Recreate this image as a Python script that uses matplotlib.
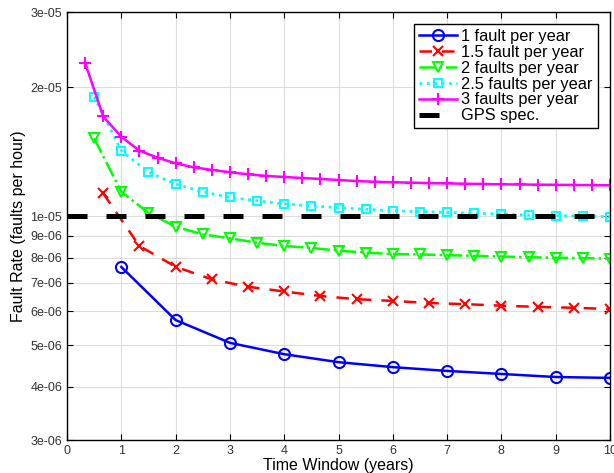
import numpy as np
import matplotlib
matplotlib.use("Agg")
import matplotlib.pyplot as plt
from matplotlib.ticker import FixedLocator, NullLocator

plt.rcParams['font.family'] = ['Liberation Sans', 'DejaVu Sans']

# time windows (years) for each series
x_1 = [1, 2, 3, 4, 5, 6, 7, 8, 9, 10]
x_15 = [2/3 * i for i in range(1, 16)]
x_2 = [0.5 * i for i in range(1, 21)]
x_25 = [0.5 * i for i in range(1, 21)]
x_3 = [i / 3 for i in range(1, 31)]

# fault rates (faults per hour)
rate_1 = [7.61e-6, 5.72e-6, 5.06e-6, 4.76e-6, 4.56e-6, 4.44e-6, 4.35e-6,
          4.28e-6, 4.21e-6, 4.19e-6]
rate_15 = [1.131e-5, 8.52e-6, 7.62e-6, 7.12e-6, 6.84e-6, 6.67e-6, 6.51e-6,
           6.40e-6, 6.34e-6, 6.27e-6, 6.23e-6, 6.18e-6, 6.14e-6, 6.11e-6, 6.07e-6]
rate_2 = [1.52e-5, 1.14e-5, 1.019e-5, 9.45e-6, 9.07e-6, 8.88e-6, 8.67e-6,
          8.52e-6, 8.43e-6, 8.31e-6, 8.22e-6, 8.16e-6, 8.14e-6, 8.11e-6,
          8.08e-6, 8.05e-6, 8.02e-6, 8.00e-6, 7.98e-6, 7.96e-6]
rate_25 = [1.90e-5, 1.423e-5, 1.267e-5, 1.189e-5, 1.14e-5, 1.107e-5, 1.087e-5,
           1.068e-5, 1.057e-5, 1.047e-5, 1.038e-5, 1.030e-5, 1.025e-5,
           1.021e-5, 1.016e-5, 1.012e-5, 1.006e-5, 1.003e-5, 1.001e-5, 0.997e-5]
rate_3 = [2.28e-5, 1.71e-5, 1.533e-5, 1.423e-5, 1.370e-5, 1.329e-5, 1.301e-5,
          1.283e-5, 1.267e-5, 1.253e-5, 1.242e-5, 1.235e-5, 1.228e-5, 1.222e-5,
          1.215e-5, 1.208e-5, 1.204e-5, 1.200e-5, 1.198e-5, 1.195e-5, 1.193e-5,
          1.191e-5, 1.189e-5, 1.187e-5, 1.186e-5, 1.185e-5, 1.184e-5, 1.183e-5,
          1.182e-5, 1.181e-5]
gps_spec = 1e-5

y_ticks = [3e-6, 4e-6, 5e-6, 6e-6, 7e-6, 8e-6, 9e-6, 1e-5, 2e-5, 3e-5]
y_labels = ['3e-06', '4e-06', '5e-06', '6e-06', '7e-06', '8e-06', '9e-06',
            '1e-05', '2e-05', '3e-05']

fig = plt.figure(figsize=(6.14, 4.73), dpi=100)
ax = fig.add_axes([67/614, 33/473, 543/614, 428/473])

ax.plot(x_1, rate_1, color='blue', ls='-', lw=1.8, marker='o', ms=8,
        mfc='none', mew=1.5, label='1 fault per year')
ax.plot(x_15, rate_15, color='red', ls='--', lw=1.8, marker='x', ms=7,
        mew=1.5, label='1.5 fault per year', dashes=(5, 4))
ax.plot(x_2, rate_2, color=(0, 1, 0), ls='-.', lw=1.8, marker='v', ms=7,
        mfc='none', mew=1.5, label='2 faults per year')
ax.plot(x_25, rate_25, color='cyan', ls=':', lw=2, marker='s', ms=6,
        mfc='none', mew=1.5, label='2.5 faults per year')
ax.plot(x_3, rate_3, color='magenta', ls='-', lw=1.8, marker='+', ms=9,
        mew=1.5, label='3 faults per year')
ax.axhline(gps_spec, color='black', lw=3.6, dashes=(4, 3.8),
           label='GPS spec.')

ax.set_yscale('log')
ax.set_xlim(0, 10)
ax.set_ylim(3e-6, 3e-5)
ax.set_xticks(range(0, 11))
ax.yaxis.set_major_locator(FixedLocator(y_ticks))
ax.yaxis.set_minor_locator(NullLocator())
ax.set_yticklabels(y_labels)
ax.tick_params(direction='in', labelsize=9, labelcolor='#333333',
               top=True, right=True, length=4)
ax.grid(True, color='#dddddd', lw=0.8)
for s in ax.spines.values():
    s.set_linewidth(1)

ax.set_xlabel('Time Window (years)', fontsize=11.5, labelpad=1)
ax.set_ylabel('Fault Rate (faults per hour)', fontsize=11.5, labelpad=3)

leg = ax.legend(loc='upper right', fontsize=11.8, frameon=True, fancybox=False,
                edgecolor='black', framealpha=1, borderaxespad=0.75,
                handlelength=2.35, handletextpad=0.25, labelspacing=0.05,
                borderpad=0.3)
leg.get_frame().set_linewidth(1)

fig.savefig('out.png', dpi=100)
